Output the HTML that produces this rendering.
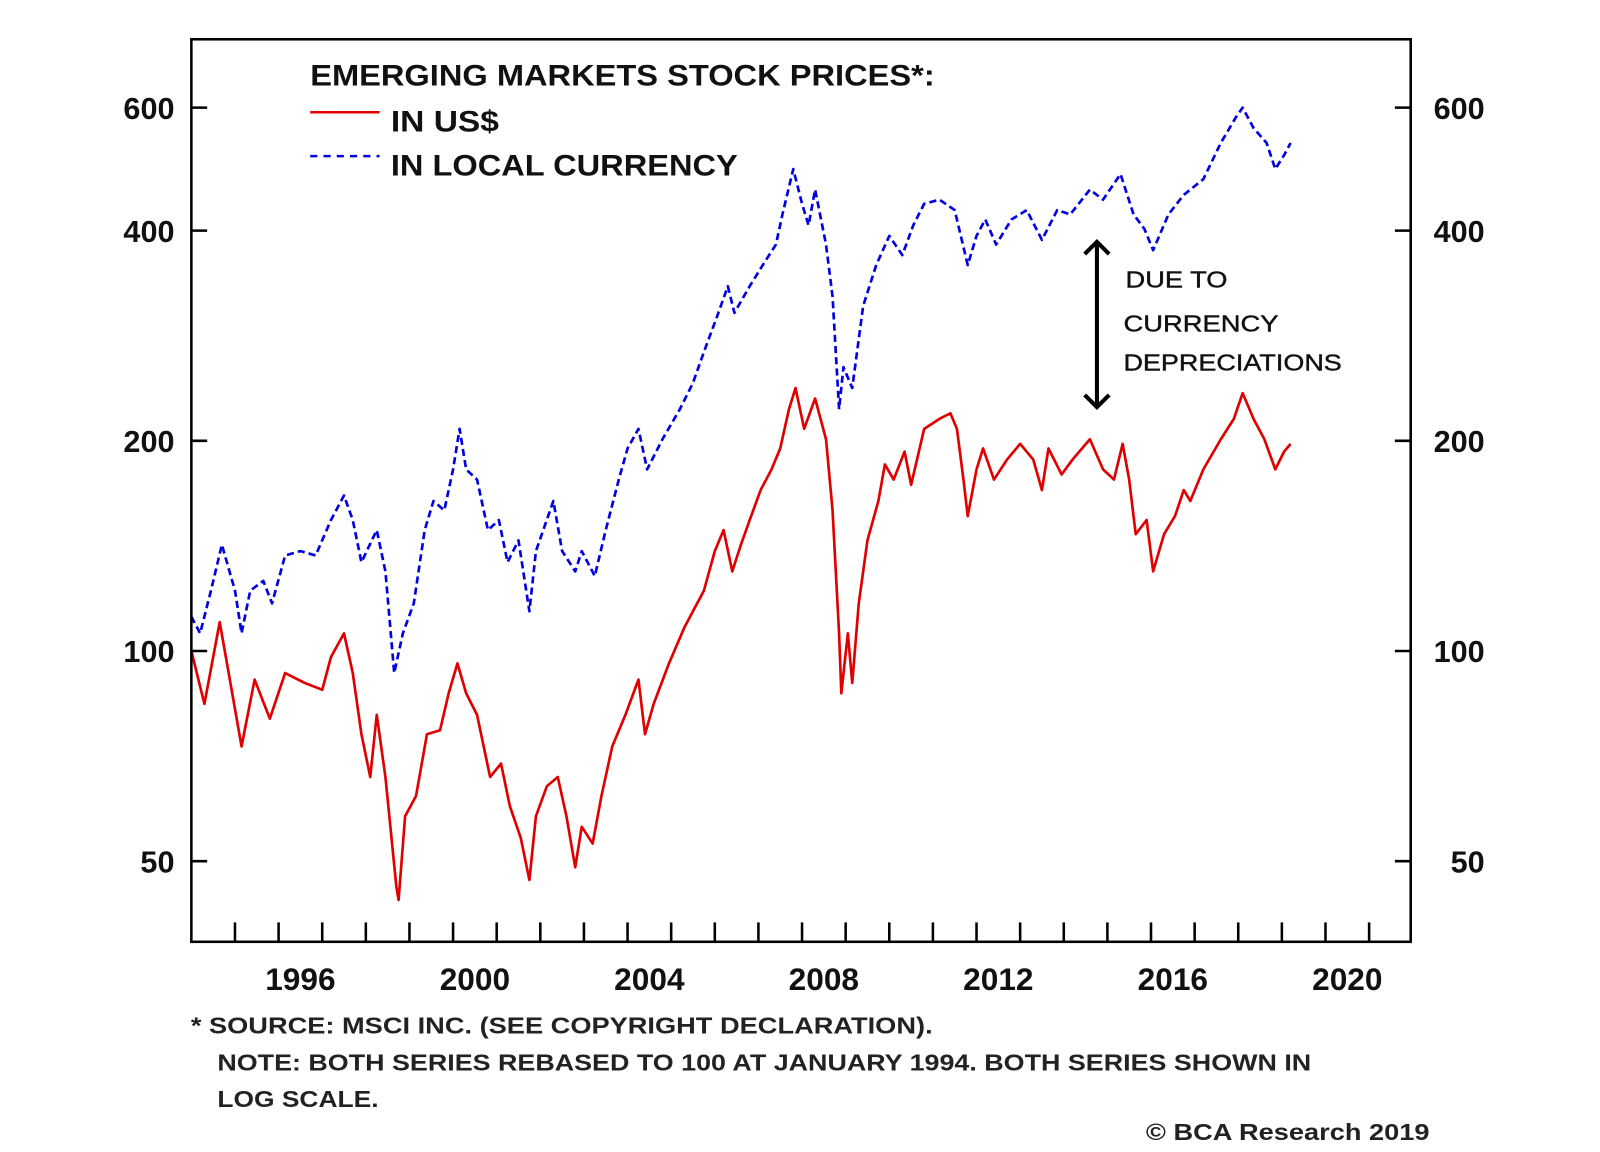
<!DOCTYPE html>
<html><head><meta charset="utf-8"><style>
html,body{margin:0;padding:0;background:#fff;}
svg{display:block;font-family:"Liberation Sans",Arial,sans-serif;}
</style></head><body>
<svg id="chart" width="1600" height="1152" viewBox="0 0 1568 1129" xmlns="http://www.w3.org/2000/svg">
<rect x="0" y="0" width="1568" height="1129" fill="#fff"/>
<g id="plot"></g>
<rect x="187.5" y="38.5" width="1195" height="884.5" fill="none" stroke="#000" stroke-width="2.5"/>
<g id="axes"></g>
<g fill="#111" font-weight="bold">
<text x="304" y="84" font-size="29" textLength="612" lengthAdjust="spacingAndGlyphs">EMERGING MARKETS STOCK PRICES*:</text>
<line x1="304" y1="110" x2="372" y2="110" stroke="#e00000" stroke-width="2.5"/>
<text x="383" y="129" font-size="29" textLength="106" lengthAdjust="spacingAndGlyphs">IN US$</text>
<line x1="304" y1="153" x2="372" y2="153" stroke="#0000e0" stroke-width="2.5" stroke-dasharray="7,6"/>
<text x="383" y="172" font-size="29" textLength="340" lengthAdjust="spacingAndGlyphs">IN LOCAL CURRENCY</text>
</g>
<g>
<line x1="1075" y1="240" x2="1075" y2="396" stroke="#000" stroke-width="4"/>
<polyline points="1063,249 1075,237 1087,249" fill="none" stroke="#000" stroke-width="4"/>
<polyline points="1063,387 1075,399 1087,387" fill="none" stroke="#000" stroke-width="4"/>
<g fill="#111" font-size="23" stroke="#111" stroke-width="0.4">
<text x="1103" y="282" textLength="100" lengthAdjust="spacingAndGlyphs">DUE TO</text>
<text x="1101" y="325" textLength="152" lengthAdjust="spacingAndGlyphs">CURRENCY</text>
<text x="1101" y="363" textLength="214" lengthAdjust="spacingAndGlyphs">DEPRECIATIONS</text>
</g></g>
<g fill="#222" font-size="23" font-weight="bold">
<text x="187" y="1013" textLength="727" lengthAdjust="spacingAndGlyphs">* SOURCE: MSCI INC. (SEE COPYRIGHT DECLARATION).</text>
<text x="213" y="1049" textLength="1072" lengthAdjust="spacingAndGlyphs">NOTE: BOTH SERIES REBASED TO 100 AT JANUARY 1994. BOTH SERIES SHOWN IN</text>
<text x="213" y="1085" textLength="158" lengthAdjust="spacingAndGlyphs">LOG SCALE.</text>
<text x="1123" y="1117" textLength="278" lengthAdjust="spacingAndGlyphs">© BCA Research 2019</text>
</g>
</svg>
<script>
const usdYears=[1994.0,1994.3,1994.65,1995.15,1995.45,1995.8,1996.15,1996.6,1997.0,1997.2,1997.5,1997.7,1997.9,1998.1,1998.25,1998.45,1998.7,1998.75,1998.9,1999.15,1999.4,1999.7,1999.9,2000.1,2000.3,2000.55,2000.85,2001.1,2001.3,2001.55,2001.75,2001.9,2002.15,2002.4,2002.6,2002.8,2002.95,2003.2,2003.4,2003.65,2003.95,2004.25,2004.4,2004.6,2004.95,2005.3,2005.5,2005.75,2006.0,2006.2,2006.4,2006.6,2006.8,2007.05,2007.3,2007.5,2007.7,2007.85,2008.05,2008.3,2008.55,2008.7,2008.85,2008.9,2009.05,2009.15,2009.3,2009.5,2009.75,2009.9,2010.1,2010.35,2010.5,2010.8,2011.15,2011.4,2011.55,2011.7,2011.8,2012.0,2012.15,2012.4,2012.7,2013.0,2013.3,2013.5,2013.65,2013.95,2014.2,2014.6,2014.9,2015.15,2015.35,2015.5,2015.65,2015.9,2016.05,2016.3,2016.55,2016.75,2016.9,2017.2,2017.6,2017.9,2018.1,2018.35,2018.6,2018.85,2019.05,2019.2];
const usdValues=[100,84,110,73,91,80,93,90,88,98,106,93,76,66,81,66,46,44,58,62,76,77,87,96,87,81,66,69,60,54,47,58,64,66,58,49,56,53,62,73,81,91,76,84,96,108,114,122,139,149,130,142,154,170,182,195,222,238,208,230,201,159,106,87,106,90,117,144,164,185,176,193,173,208,215,219,208,176,156,182,195,176,188,198,188,170,195,179,188,201,182,176,198,176,147,154,130,147,156,170,164,182,201,215,234,215,201,182,193,198];
const localYears=[1994.0,1994.2,1994.45,1994.7,1995.0,1995.15,1995.35,1995.65,1995.85,1996.15,1996.5,1996.85,1997.2,1997.5,1997.7,1997.9,1998.25,1998.45,1998.65,1998.85,1999.1,1999.35,1999.55,1999.8,2000.0,2000.15,2000.3,2000.55,2000.8,2001.05,2001.25,2001.5,2001.75,2001.9,2002.3,2002.5,2002.8,2002.95,2003.25,2003.5,2003.8,2004.0,2004.25,2004.45,2004.8,2005.2,2005.5,2005.75,2006.05,2006.3,2006.45,2006.8,2007.1,2007.4,2007.55,2007.8,2008.0,2008.15,2008.3,2008.55,2008.7,2008.85,2008.95,2009.15,2009.4,2009.7,2010.0,2010.3,2010.55,2010.8,2011.15,2011.5,2011.8,2012.0,2012.2,2012.45,2012.8,2013.15,2013.5,2013.85,2014.15,2014.6,2014.9,2015.3,2015.6,2015.85,2016.05,2016.4,2016.75,2017.2,2017.6,2017.95,2018.1,2018.35,2018.65,2018.85,2019.05,2019.2];
const localValues=[112,106,122,142,122,106,122,126,117,137,139,137,154,167,154,134,149,130,93,106,117,149,164,159,182,208,182,176,149,154,134,144,114,139,164,139,130,139,128,149,176,195,208,182,201,222,242,268,301,333,305,333,357,382,422,490,437,407,458,382,322,222,255,238,312,357,393,369,407,437,443,428,357,393,415,382,415,428,388,428,422,458,443,482,422,402,375,422,450,474,534,582,600,561,534,490,513,534];
const yTicks=[50,100,200,400,600];
const xTickYears=[1995,1996,1997,1998,1999,2000,2001,2002,2003,2004,2005,2006,2007,2008,2009,2010,2011,2012,2013,2014,2015,2016,2017,2018,2019,2020,2021];
const xLabels=[1996,2000,2004,2008,2012,2016,2020];

const NS='http://www.w3.org/2000/svg';
function xs(y){return 273+(y-1996)*42.75;}
function ys(v){return 638-206*Math.log2(v/100);}
function mk(tag,attrs,parent){const e=document.createElementNS(NS,tag);for(const k in attrs)e.setAttribute(k,attrs[k]);parent.appendChild(e);return e;}
const plot=document.getElementById('plot'),axes=document.getElementById('axes');

function series(years,vals,color,dash,name){
  const d=years.map((y,i)=>(i?'L':'M')+xs(y).toFixed(1)+','+ys(vals[i]).toFixed(1)).join(' ');
  const p=mk('path',{d:d,fill:'none',stroke:color,'stroke-width':'2.6','stroke-linejoin':'round'},plot);
  if(dash)p.setAttribute('stroke-dasharray',dash);
  
  
}
series(localYears,localValues,'#0000e0','7,4','local-currency-line');
series(usdYears,usdValues,'#e00000',null,'usd-line');

yTicks.forEach(v=>{
  const y=ys(v);
  const t1=mk('line',{x1:187,y1:y,x2:203,y2:y,stroke:'#000','stroke-width':2.5},axes);
  
  
  const t2=mk('line',{x1:1367,y1:y,x2:1383,y2:y,stroke:'#000','stroke-width':2.5},axes);
  
  
  const l=mk('text',{x:171,y:y+11,'text-anchor':'end','font-size':30,'font-weight':'bold',fill:'#111'},axes);
  l.textContent=v;
  
  
  const r=mk('text',{x:1455,y:y+11,'text-anchor':'end','font-size':30,'font-weight':'bold',fill:'#111'},axes);
  r.textContent=v;
  
  
});
xTickYears.forEach(yr=>{
  const x=xs(yr);
  const t=mk('line',{x1:x,y1:904,x2:x,y2:923,stroke:'#000','stroke-width':2.5},axes);
  
  
});
xLabels.forEach(yr=>{
  const l=mk('text',{x:xs(yr+0.5),y:970,'text-anchor':'middle','font-size':31,'font-weight':'bold',fill:'#111'},axes);
  l.textContent=yr;
  
  
});
</script>
</body></html>
